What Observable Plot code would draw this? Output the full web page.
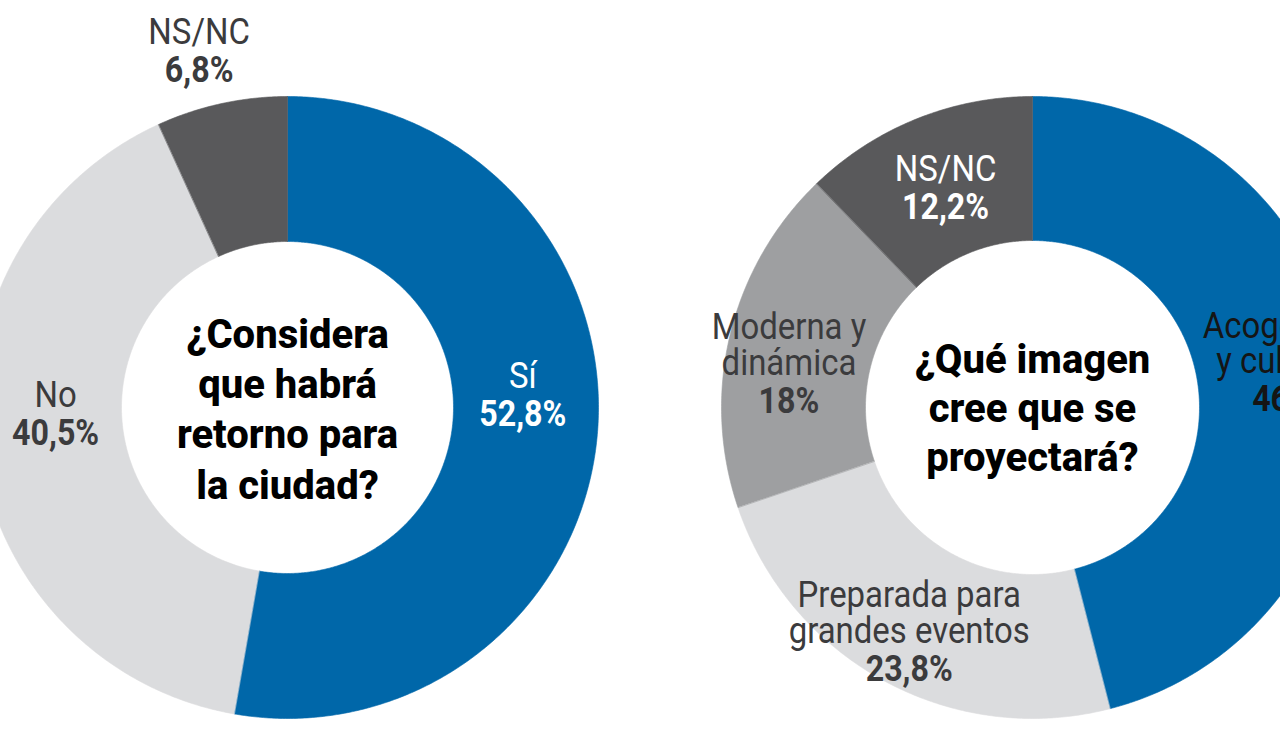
<!DOCTYPE html>
<html>
<head>
<meta charset="utf-8">
<script src="https://cdn.jsdelivr.net/npm/d3@7"></script>
<script src="https://cdn.jsdelivr.net/npm/@observablehq/plot@0.6"></script>
<style>
  html, body { margin: 0; padding: 0; background: #fff; overflow: hidden; }
  #chart svg { display: block; }
</style>
</head>
<body>
<div id="chart"></div>
<script>
// ---- Data ----
const leftCategories = ["Sí", "No", "NS/NC"];
const leftValues = [52.8, 40.5, 6.8];
const leftQuestion = "¿Considera\nque habrá\nretorno para\nla ciudad?";

const rightCategories = ["Acogedora\ny cultural", "Preparada para\ngrandes eventos", "Moderna y\ndinámica", "NS/NC"];
const rightValues = [46, 23.8, 18, 12.2];
const rightQuestion = "¿Qué imagen\ncree que se\nproyectará?";

// ---- Styles / layout ----
const W = 1280, H = 732;
const FONT = "Roboto, 'Open Sans', sans-serif";
const BLUE = "#0067a9", DARK = "#59595b", MID = "#9e9fa1", LIGHT = "#dbdcde";
const TXT = "#3b3b3d";

const donuts = [
  {
    categories: leftCategories, values: leftValues, question: leftQuestion,
    cx: 287, cy: 407, r0: 166, r1: 311, qOffset: 91, qLineHeight: 50.3,
    colors: [BLUE, LIGHT, DARK],
    labelPos: [{a: 94.4, r: 236}, {a: 260.7, r: 235}, {a: 344.8, r: 337}],
    textColors: ["#ffffff", TXT, TXT]
  },
  {
    categories: rightCategories, values: rightValues, question: rightQuestion,
    cx: 1032, cy: 407, r0: 167, r1: 311, qOffset: 63, qLineHeight: 49,
    colors: [BLUE, LIGHT, MID, DARK],
    labelPos: [{a: 90.9, r: 250}, {a: 204.3, r: 299.6}, {a: 268.8, r: 243.6}, {a: 335.3, r: 208}],
    textColors: ["#151515", TXT, TXT, "#ffffff"]
  }
];

const fmt = v => (Number.isInteger(v) ? String(v) : v.toFixed(1).replace(".", ",")) + "%";
const rad = d => d * Math.PI / 180;

// ---- Build slice polygons from pie angles ----
const slicePts = [];
const labels = [];
const questions = [];
donuts.forEach((d, di) => {
  const arcs = d3.pie().sort(null)(d.values);
  arcs.forEach((a, i) => {
    const key = `${di}-${i}`;
    const n = Math.max(4, Math.ceil((a.endAngle - a.startAngle) / rad(0.5)));
    for (let k = 0; k <= n; k++) {
      const t = a.startAngle + (a.endAngle - a.startAngle) * k / n;
      slicePts.push({key, color: d.colors[i], x: d.cx + d.r1 * Math.sin(t), y: d.cy - d.r1 * Math.cos(t)});
    }
    for (let k = n; k >= 0; k--) {
      const t = a.startAngle + (a.endAngle - a.startAngle) * k / n;
      slicePts.push({key, color: d.colors[i], x: d.cx + d.r0 * Math.sin(t), y: d.cy - d.r0 * Math.cos(t)});
    }
    const p = d.labelPos[i];
    labels.push({
      x: d.cx + p.r * Math.sin(rad(p.a)),
      y: d.cy - p.r * Math.cos(rad(p.a)),
      name: d.categories[i],
      value: fmt(d.values[i]),
      color: d.textColors[i]
    });
  });
  questions.push({x: d.cx, y: d.cy + d.qOffset, text: d.question, lh: d.qLineHeight});
});

const chart = Plot.plot({
  width: W, height: H,
  margin: 0,
  x: {domain: [0, W], range: [0, W], axis: null},
  y: {domain: [0, H], range: [0, H], axis: null},
  color: {type: "identity"},
  style: {background: "#fff", fontFamily: FONT},
  marks: [
    Plot.line(slicePts, {x: "x", y: "y", z: "key", fill: "color", stroke: "color", strokeWidth: 0.6, curve: "linear-closed"}),
    Plot.text(labels, {x: "x", y: "y", text: "name", dy: -38, lineAnchor: "bottom", lineHeight: 0.97,
      fontSize: 37, fontWeight: 400, fill: "color", textAnchor: "middle", fontFamily: FONT}),
    Plot.text(labels, {x: "x", y: "y", text: "value", lineAnchor: "bottom",
      fontSize: 37, fontWeight: 700, fill: "color", textAnchor: "middle", fontFamily: FONT}),
    Plot.text(questions.slice(0, 1), {x: "x", y: "y", text: "text", lineAnchor: "bottom", lineHeight: 50.3 / 40,
      fontSize: 40, fontWeight: 800, fill: "#000", textAnchor: "middle", fontFamily: FONT}),
    Plot.text(questions.slice(1), {x: "x", y: "y", text: "text", lineAnchor: "bottom", lineHeight: 49 / 40,
      fontSize: 40, fontWeight: 800, fill: "#000", textAnchor: "middle", fontFamily: FONT})
  ]
});

document.getElementById("chart").appendChild(chart);

// Condense label text horizontally (the reference uses a condensed face)
const squeeze = {"400": 0.89, "700": 0.87};
chart.querySelectorAll("text").forEach(t => {
  const g = t.closest("g");
  const fw = g && g.getAttribute("font-weight");
  const sx = squeeze[fw];
  if (!sx) return;
  const tr = t.getAttribute("transform");
  if (tr) t.setAttribute("transform", tr + ` scale(${sx},1)`);
});
</script>
</body>
</html>
